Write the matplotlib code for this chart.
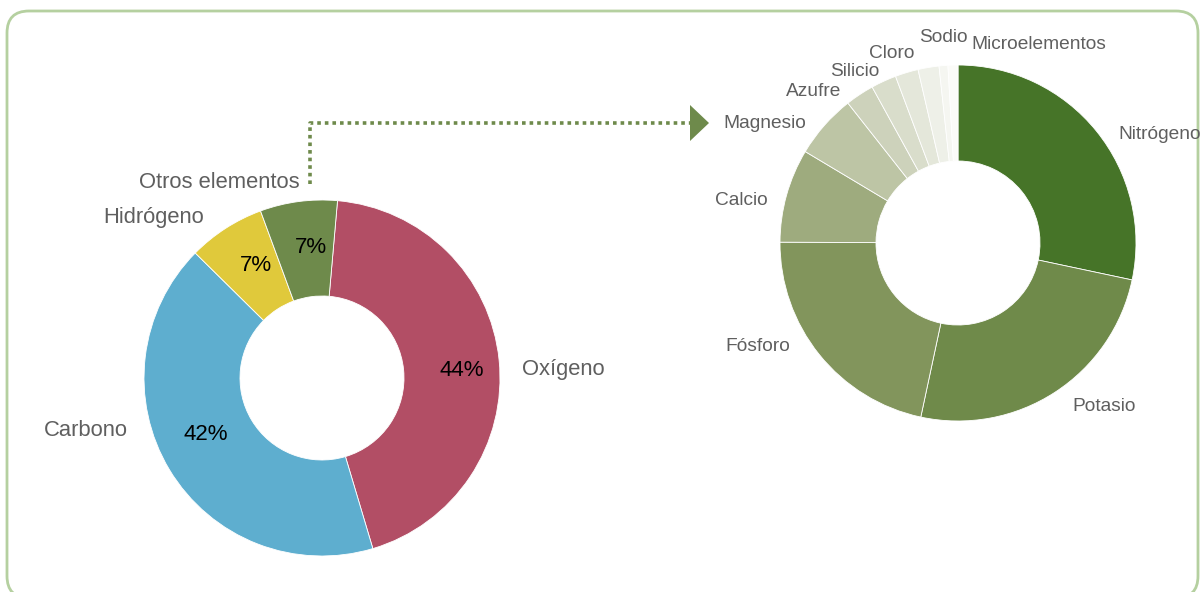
#!/usr/bin/env python3
"""Composición elemental: donut principal y detalle de 'Otros elementos'."""

import matplotlib

matplotlib.use("Agg")
import numpy as np
import matplotlib.pyplot as plt
from matplotlib.patches import FancyBboxPatch, Polygon

W, H = 1201, 592

# left donut: main elements (%)
main_labels = ["Oxígeno", "Carbono", "Hidrógeno", "Otros elementos"]
main_values = [44, 42, 7, 7]
main_colors = ["#b24e65", "#5eaecf", "#e0c93b", "#6e8a4b"]

# right donut: breakdown of "Otros elementos" (share, %)
other_labels = ["Nitrógeno", "Potasio", "Fósforo", "Calcio", "Magnesio",
                "Azufre", "Silicio", "Cloro", "Sodio", "", "Microelementos"]
other_values = [28.3, 25.0, 21.7, 8.5, 5.8, 2.6, 2.3, 2.1, 1.9, 0.8, 0.9]
other_colors = ["#467428", "#6f8a4a", "#82955c", "#9eab7e", "#bdc5a5",
                "#cdd2bb", "#d9ddcb", "#e4e7da", "#eef0e8", "#f5f6f1", "#fbfbf8"]

FONT = ["Liberation Sans", "DejaVu Sans"]
LABEL_COLOR = "#5f5f5f"
ARROW_COLOR = "#6e8a4b"

# label nudges in pixels (right, down), to mimic the original spreading
NUDGES = {
    "Oxígeno": (2, 12), "Carbono": (-23, -50), "Hidrógeno": (-10, 7),
    "Otros elementos": (4, 2),
    "Nitrógeno": (5, 17), "Potasio": (6, -4), "Fósforo": (-12, -21),
    "Calcio": (2, 11), "Magnesio": (-2, 12), "Azufre": (-7, 15),
    "Silicio": (5, 10), "Cloro": (14, 1), "Sodio": (43, -9),
    "Microelementos": (19, 1),
}
# percentage label nudges (same order as main_labels)
PCT_NUDGES = [(2, 7), (3, -15), (9, 4), (7, 7)]


def yy(y_img):
    """image row -> data y (axis runs bottom-up)"""
    return H - y_img


def label_wedges(ax, wedges, labels, dist, fontsize):
    for w, name in zip(wedges, labels):
        if not name:
            continue
        mid = np.deg2rad((w.theta1 + w.theta2) / 2)
        cx, cy = w.center
        x = cx + dist * w.r * np.cos(mid)
        y = cy + dist * w.r * np.sin(mid)
        ha = "left" if np.cos(mid) > 0 else "right"
        if name == "Microelementos":
            ha = "left"
        dx, dy = NUDGES.get(name, (0, 0))
        ax.text(x + dx, y - dy, name, ha=ha, va="center",
                fontsize=fontsize, color=LABEL_COLOR)


def main():
    plt.rcParams["font.family"] = FONT
    fig = plt.figure(figsize=(W / 100, H / 100), dpi=100)
    ax = fig.add_axes([0, 0, 1, 1])

    # rounded frame
    frame = FancyBboxPatch((7, yy(598)), 1191, 587,
                           boxstyle="round,pad=0,rounding_size=22",
                           facecolor="none", edgecolor="#b5d0a0", linewidth=2)
    ax.add_patch(frame)

    radius = 178
    ring = radius - 82

    # left donut, starts ~5 deg right of top, clockwise
    lw, _, pcts = ax.pie(
        main_values, colors=main_colors,
        center=(322, yy(378)), radius=radius, startangle=85,
        counterclock=False, autopct="%d%%", pctdistance=0.78,
        wedgeprops=dict(width=ring, edgecolor="white", linewidth=0.6),
        textprops=dict(fontsize=16, color="black"), frame=True)
    for t, (dx, dy) in zip(pcts, PCT_NUDGES):
        x, y = t.get_position()
        t.set_position((x + dx, y - dy))
    label_wedges(ax, lw, main_labels, 1.12, 15.8)

    # right donut, starts at top, clockwise
    rw, _ = ax.pie(
        other_values, colors=other_colors,
        center=(958, yy(243)), radius=radius, startangle=90,
        counterclock=False,
        wedgeprops=dict(width=ring, edgecolor="white", linewidth=0.6),
        frame=True)
    label_wedges(ax, rw, other_labels, 1.12, 13.8)

    ax.set_xlim(0, W)
    ax.set_ylim(0, H)
    ax.set_aspect("auto")
    ax.axis("off")

    # dotted connector from "Otros elementos" to the breakdown
    ax.plot([310, 310, 692], [yy(184), yy(123), yy(123)], color=ARROW_COLOR,
            linewidth=2.6, linestyle=(0, (1, 1.1)), solid_capstyle="butt")
    ax.add_patch(Polygon([(690, yy(105)), (709, yy(123)), (690, yy(141))],
                         closed=True, facecolor=ARROW_COLOR, edgecolor="none"))

    fig.savefig("out.png", dpi=100)


if __name__ == "__main__":
    main()
